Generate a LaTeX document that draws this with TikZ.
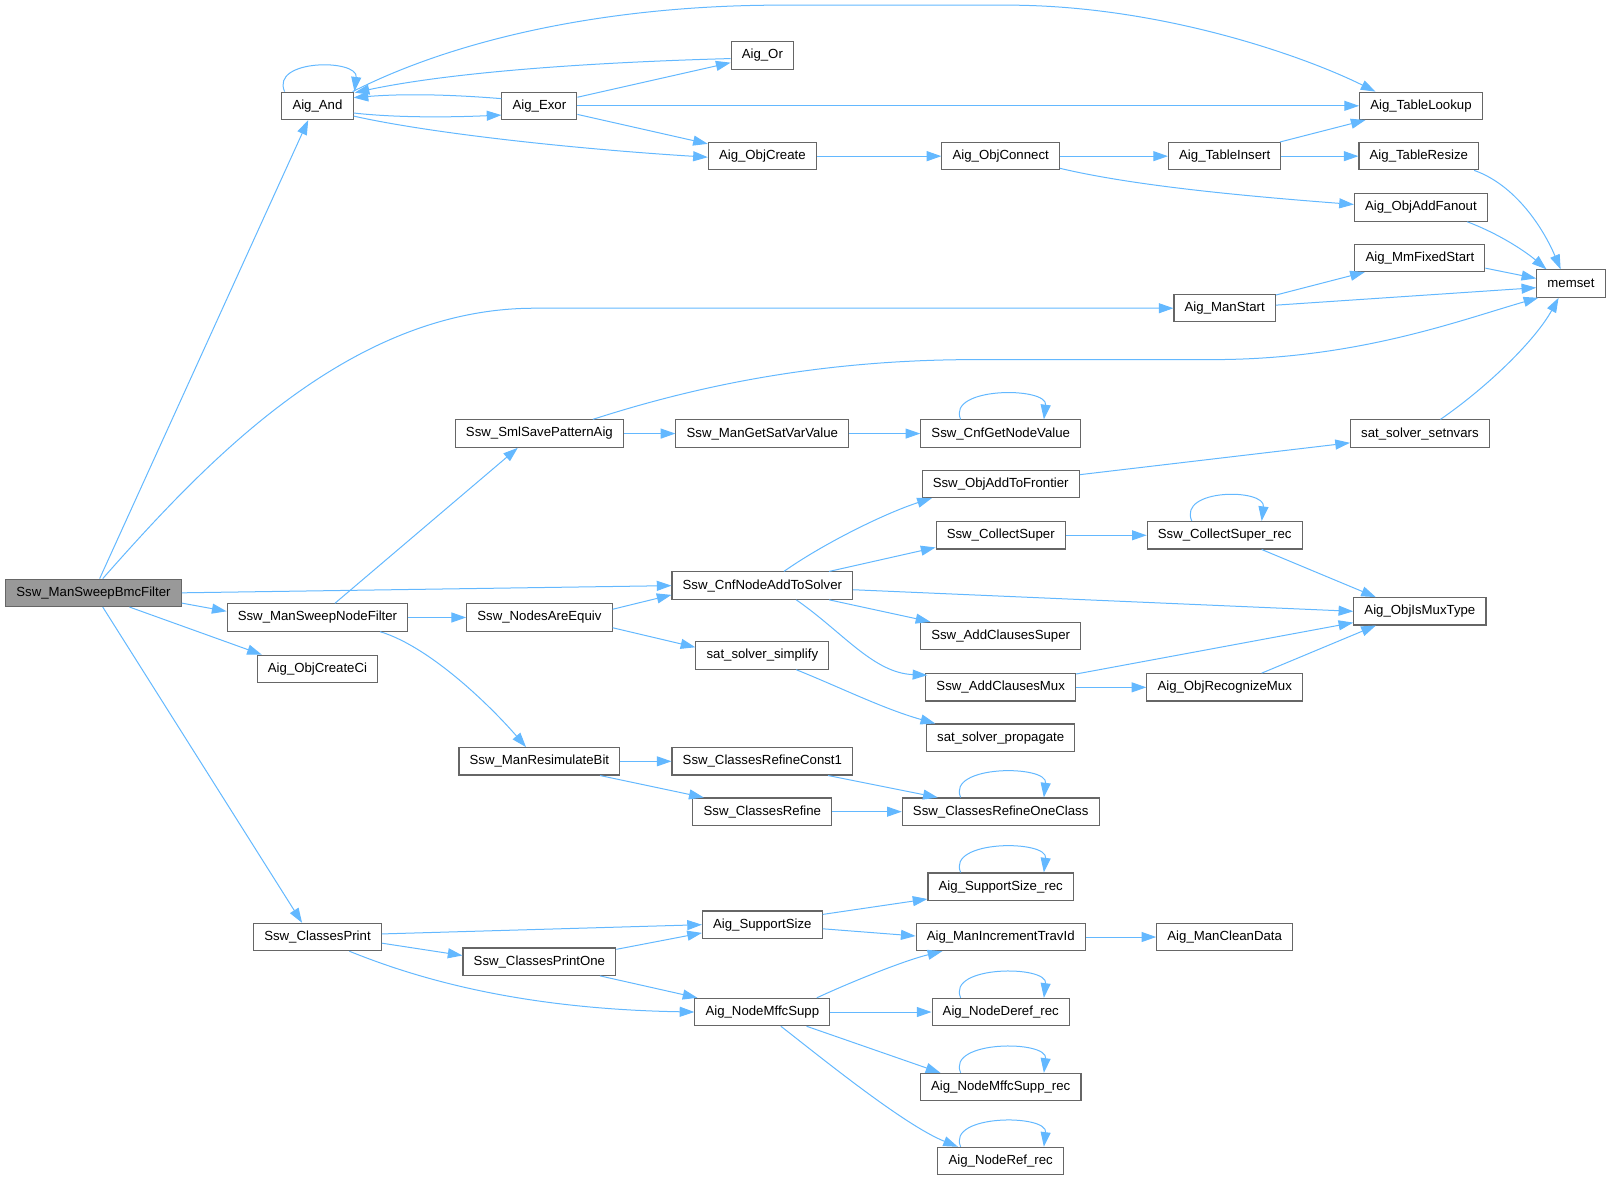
\documentclass[tikz,border=0pt]{standalone}
\usepackage{fontspec}
\setmainfont{Liberation Sans}
\usetikzlibrary{arrows.meta,calc}
\definecolor{edgec}{HTML}{63B8FF}
\definecolor{boxc}{HTML}{666666}
\definecolor{rootc}{HTML}{999999}
\newcommand\selfloopx[3]{\draw[edge] ($(#1.north)+(#2,0)$) .. controls +(-14,-32) and +(4,-32) .. ($(#1.north)+(#3,0)$);}
\begin{document}
\begin{tikzpicture}[x=0.77pt,y=-0.77pt,
  fnbox/.style={draw=boxc, line width=0.8pt, fill=white, minimum height=20.5pt, inner xsep=8pt, inner ysep=0pt, font=\fontsize{9.9pt}{11pt}\selectfont, text=black},
  rootbox/.style={fnbox, fill=rootc},
  edge/.style={draw=edgec, line width=0.75pt, -{Triangle[length=11pt,width=7.5pt]}}]
\useasboundingbox (0,0) rectangle (1568,1149);
% nodes
\node[rootbox] (bmc) at (91,577) {Ssw\_ManSweepBmcFilter};
\node[fnbox] (nand) at (309,103) {Aig\_And};
\node[fnbox] (nodefilter) at (309,601) {Ssw\_ManSweepNodeFilter};
\node[fnbox] (createci) at (309,651) {Aig\_ObjCreateCi};
\node[fnbox] (cprint) at (309,912) {Ssw\_ClassesPrint};
\node[fnbox] (exor) at (525,103) {Aig\_Exor};
\node[fnbox] (smlsave) at (525,422) {Ssw\_SmlSavePatternAig};
\node[fnbox] (equiv) at (525,601) {Ssw\_NodesAreEquiv};
\node[fnbox] (resim) at (525,741) {Ssw\_ManResimulateBit};
\node[fnbox] (cprintone) at (525,936) {Ssw\_ClassesPrintOne};
\node[fnbox] (nor) at (742,54) {Aig\_Or};
\node[fnbox] (objcreate) at (742,152) {Aig\_ObjCreate};
\node[fnbox] (getsat) at (742,422) {Ssw\_ManGetSatVarValue};
\node[fnbox] (cnfadd) at (742,570) {Ssw\_CnfNodeAddToSolver};
\node[fnbox] (simplify) at (742,638) {sat\_solver\_simplify};
\node[fnbox] (refconst) at (742,741) {Ssw\_ClassesRefineConst1};
\node[fnbox] (refine) at (742,790) {Ssw\_ClassesRefine};
\node[fnbox] (suppsize) at (742,900) {Aig\_SupportSize};
\node[fnbox] (mffc) at (742,985) {Aig\_NodeMffcSupp};
\node[fnbox] (connect) at (974,152) {Aig\_ObjConnect};
\node[fnbox] (cnfget) at (974,422) {Ssw\_CnfGetNodeValue};
\node[fnbox] (frontier) at (974,471) {Ssw\_ObjAddToFrontier};
\node[fnbox] (collect) at (974,521) {Ssw\_CollectSuper};
\node[fnbox] (clsuper) at (974,619) {Ssw\_AddClausesSuper};
\node[fnbox] (clmux) at (974,669) {Ssw\_AddClausesMux};
\node[fnbox] (propagate) at (974,718) {sat\_solver\_propagate};
\node[fnbox] (oneclass) at (974,790) {Ssw\_ClassesRefineOneClass};
\node[fnbox] (supprec) at (974,863) {Aig\_SupportSize\_rec};
\node[fnbox] (travid) at (974,912) {Aig\_ManIncrementTravId};
\node[fnbox] (deref) at (974,985) {Aig\_NodeDeref\_rec};
\node[fnbox] (mffcrec) at (974,1058) {Aig\_NodeMffcSupp\_rec};
\node[fnbox] (refrec) at (974,1130) {Aig\_NodeRef\_rec};
\node[fnbox] (tinsert) at (1192,152) {Aig\_TableInsert};
\node[fnbox] (manstart) at (1192,300) {Aig\_ManStart};
\node[fnbox] (collectrec) at (1192,521) {Ssw\_CollectSuper\_rec};
\node[fnbox] (recmux) at (1192,669) {Aig\_ObjRecognizeMux};
\node[fnbox] (cleandata) at (1192,912) {Aig\_ManCleanData};
\node[fnbox] (tlookup) at (1383,103) {Aig\_TableLookup};
\node[fnbox] (tresize) at (1381,152) {Aig\_TableResize};
\node[fnbox] (fanout) at (1383,202) {Aig\_ObjAddFanout};
\node[fnbox] (mmfixed) at (1382,251) {Aig\_MmFixedStart};
\node[fnbox] (setnvars) at (1382,422) {sat\_solver\_setnvars};
\node[fnbox] (ismux) at (1382,595) {Aig\_ObjIsMuxType};
\node[fnbox] (memset) at (1529,276) {memset};
% edges from root
\draw[edge] ($(bmc.north)+(6,0)$) -- ($(nand.south)+(-9,0)$);
\draw[edge] ($(bmc.north)+(9,0)$) .. controls (200,450) and (340,300) .. (520,300) -- (manstart.west);
\draw[edge] (bmc.east) -- (cnfadd.west);
\draw[edge] ($(bmc.east)+(0,10)$) -- ($(nodefilter.west)+(0,-6)$);
\draw[edge] ($(bmc.south)+(35,0)$) -- ($(createci.north west)+(5,0)$);
\draw[edge] ($(bmc.south)+(9,0)$) -- ($(cprint.north)+(-15,0)$);
% Aig_And cluster
\selfloopx{nand}{-32}{36}
\draw[edge] ($(nand.east)+(0,7)$) .. controls +(45,5) and +(-45,2) .. ($(exor.west)+(0,9)$);
\draw[edge] ($(exor.west)+(0,-7)$) .. controls +(-50,-4) and +(50,-4) .. ($(nand.east)+(0,-8)$);
\draw[edge] ($(nor.west)+(0,3)$) .. controls (600,60) and (450,68) .. ($(nand.north east)+(1,1)$);
\draw[edge] ($(nand.north east)+(-1,0)$) .. controls (450,35) and (600,5) .. (760,5) -- (980,5) .. controls (1130,5) and (1270,55) .. ($(tlookup.north west)+(16,0)$);
\draw[edge] ($(nand.east)+(0,10)$) .. controls (420,130) and (560,145) .. ($(objcreate.west)+(0,1)$);
\draw[edge] (exor.east) -- (tlookup.west);
\draw[edge] (exor) -- (nor);
\draw[edge] (exor) -- (objcreate);
\draw[edge] (objcreate.east) -- (connect.west);
\draw[edge] (connect.east) -- (tinsert.west);
\draw[edge] ($(connect.south east)+(0,-2)$) .. controls (1100,180) and (1200,190) .. ($(fanout.west)+(0,-3)$);
\draw[edge] (tinsert) -- (tlookup);
\draw[edge] (tinsert.east) -- (tresize.west);
\draw[edge] ($(tresize.south east)+(-5,0)$) .. controls (1475,180) and (1502,222) .. ($(memset.north)+(-10,0)$);
\draw[edge] ($(fanout.south)+(45,0)$) .. controls (1460,228) and (1485,245) .. ($(memset.north west)+(10,0)$);
\draw[edge] ($(mmfixed.east)+(0,10)$) -- ($(memset.west)+(0,-5)$);
\draw[edge] (manstart) -- (mmfixed);
\draw[edge] ($(manstart.east)+(0,-3)$) -- ($(memset.west)+(0,4)$);
% SmlSave row
\draw[edge] ($(smlsave.north)+(52,0)$) .. controls (680,375) and (800,350) .. (950,350) -- (1180,350) .. controls (1320,350) and (1420,312) .. ($(memset.south west)+(2,0)$);
\draw[edge] (smlsave.east) -- (getsat.west);
\draw[edge] (getsat.east) -- (cnfget.west);
\selfloopx{cnfget}{-39}{42}
\draw[edge] ($(setnvars.north)+(20,0)$) .. controls (1450,375) and (1495,330) .. ($(memset.south)+(-12,0)$);
% NodeFilter
\draw[edge] ($(nodefilter.north)+(17,0)$) -- ($(smlsave.south)+(-21,0)$);
\draw[edge] (nodefilter.east) -- (equiv.west);
\draw[edge] ($(nodefilter.south)+(61,0)$) .. controls (420,630) and (480,690) .. ($(resim.north)+(-13,0)$);
\draw[edge] ($(equiv.east)+(0,-8)$) -- ($(cnfadd.west)+(0,9)$);
\draw[edge] ($(equiv.east)+(0,10)$) -- ($(simplify.west)+(0,-8)$);
% CnfNodeAddToSolver
\draw[edge] ($(cnfadd.north)+(21,0)$) .. controls (800,530) and (860,500) .. ($(frontier.south west)+(10,0)$);
\draw[edge] ($(cnfadd.north)+(65,0)$) -- ($(collect.south west)+(0,-2)$);
\draw[edge] ($(cnfadd.east)+(0,4)$) -- (ismux.west);
\draw[edge] ($(cnfadd.south)+(65,0)$) -- ($(clsuper.north west)+(10,0)$);
\draw[edge] ($(cnfadd.south)+(33,0)$) .. controls (820,615) and (850,655) .. ($(clmux.north west)+(2,2)$);
\draw[edge] ($(frontier.east)+(0,-9)$) -- ($(setnvars.west)+(0,9)$);
\draw[edge] (collect.east) -- (collectrec.west);
\selfloopx{collectrec}{-32}{36}
\draw[edge] ($(collectrec.south)+(36,0)$) -- ($(ismux.north west)+(22,0)$);
\draw[edge] ($(clmux.east)+(0,-13)$) -- ($(ismux.west)+(0,11)$);
\draw[edge] (clmux.east) -- (recmux.west);
\draw[edge] ($(recmux.north)+(36,0)$) -- ($(ismux.south west)+(22,0)$);
\draw[edge] ($(simplify.south)+(33,0)$) .. controls (820,670) and (860,690) .. ($(propagate.north west)+(9,0)$);
% Resimulate
\draw[edge] (resim.east) -- (refconst.west);
\draw[edge] ($(resim.south)+(59,0)$) -- ($(refine.north west)+(11,0)$);
\draw[edge] ($(refconst.south)+(64,0)$) -- ($(oneclass.north west)+(35,0)$);
\draw[edge] (refine.east) -- (oneclass.west);
\selfloopx{oneclass}{-39}{42}
% ClassesPrint
\draw[edge] ($(cprint.east)+(0,-3)$) -- (suppsize.west);
\draw[edge] ($(cprint.east)+(0,6)$) -- ($(cprintone.west)+(0,-6)$);
\draw[edge] ($(cprint.south)+(31,0)$) .. controls (400,950) and (500,982) .. (mffc.west);
\draw[edge] ($(cprintone.east)+(0,-12)$) -- ($(suppsize.west)+(0,8)$);
\draw[edge] ($(cprintone.south)+(59,0)$) -- ($(mffc.north west)+(3,0)$);
\draw[edge] ($(suppsize.east)+(0,-10)$) -- ($(supprec.west)+(0,12)$);
\draw[edge] ($(suppsize.east)+(0,4)$) -- ($(travid.west)+(0,-1)$);
\selfloopx{supprec}{-39}{42}
\draw[edge] (travid.east) -- (cleandata.west);
\draw[edge] ($(mffc.north)+(53,0)$) .. controls (830,955) and (880,935) .. ($(travid.south west)+(26,0)$);
\draw[edge] (mffc.east) -- (deref.west);
\draw[edge] ($(mffc.south)+(43,0)$) -- ($(mffcrec.north west)+(20,0)$);
\draw[edge] ($(mffc.south)+(18,0)$) .. controls (800,1030) and (880,1095) .. ($(refrec.north west)+(20,0)$);
\selfloopx{deref}{-39}{42}
\selfloopx{mffcrec}{-39}{42}
\selfloopx{refrec}{-39}{42}
\end{tikzpicture}
\end{document}
